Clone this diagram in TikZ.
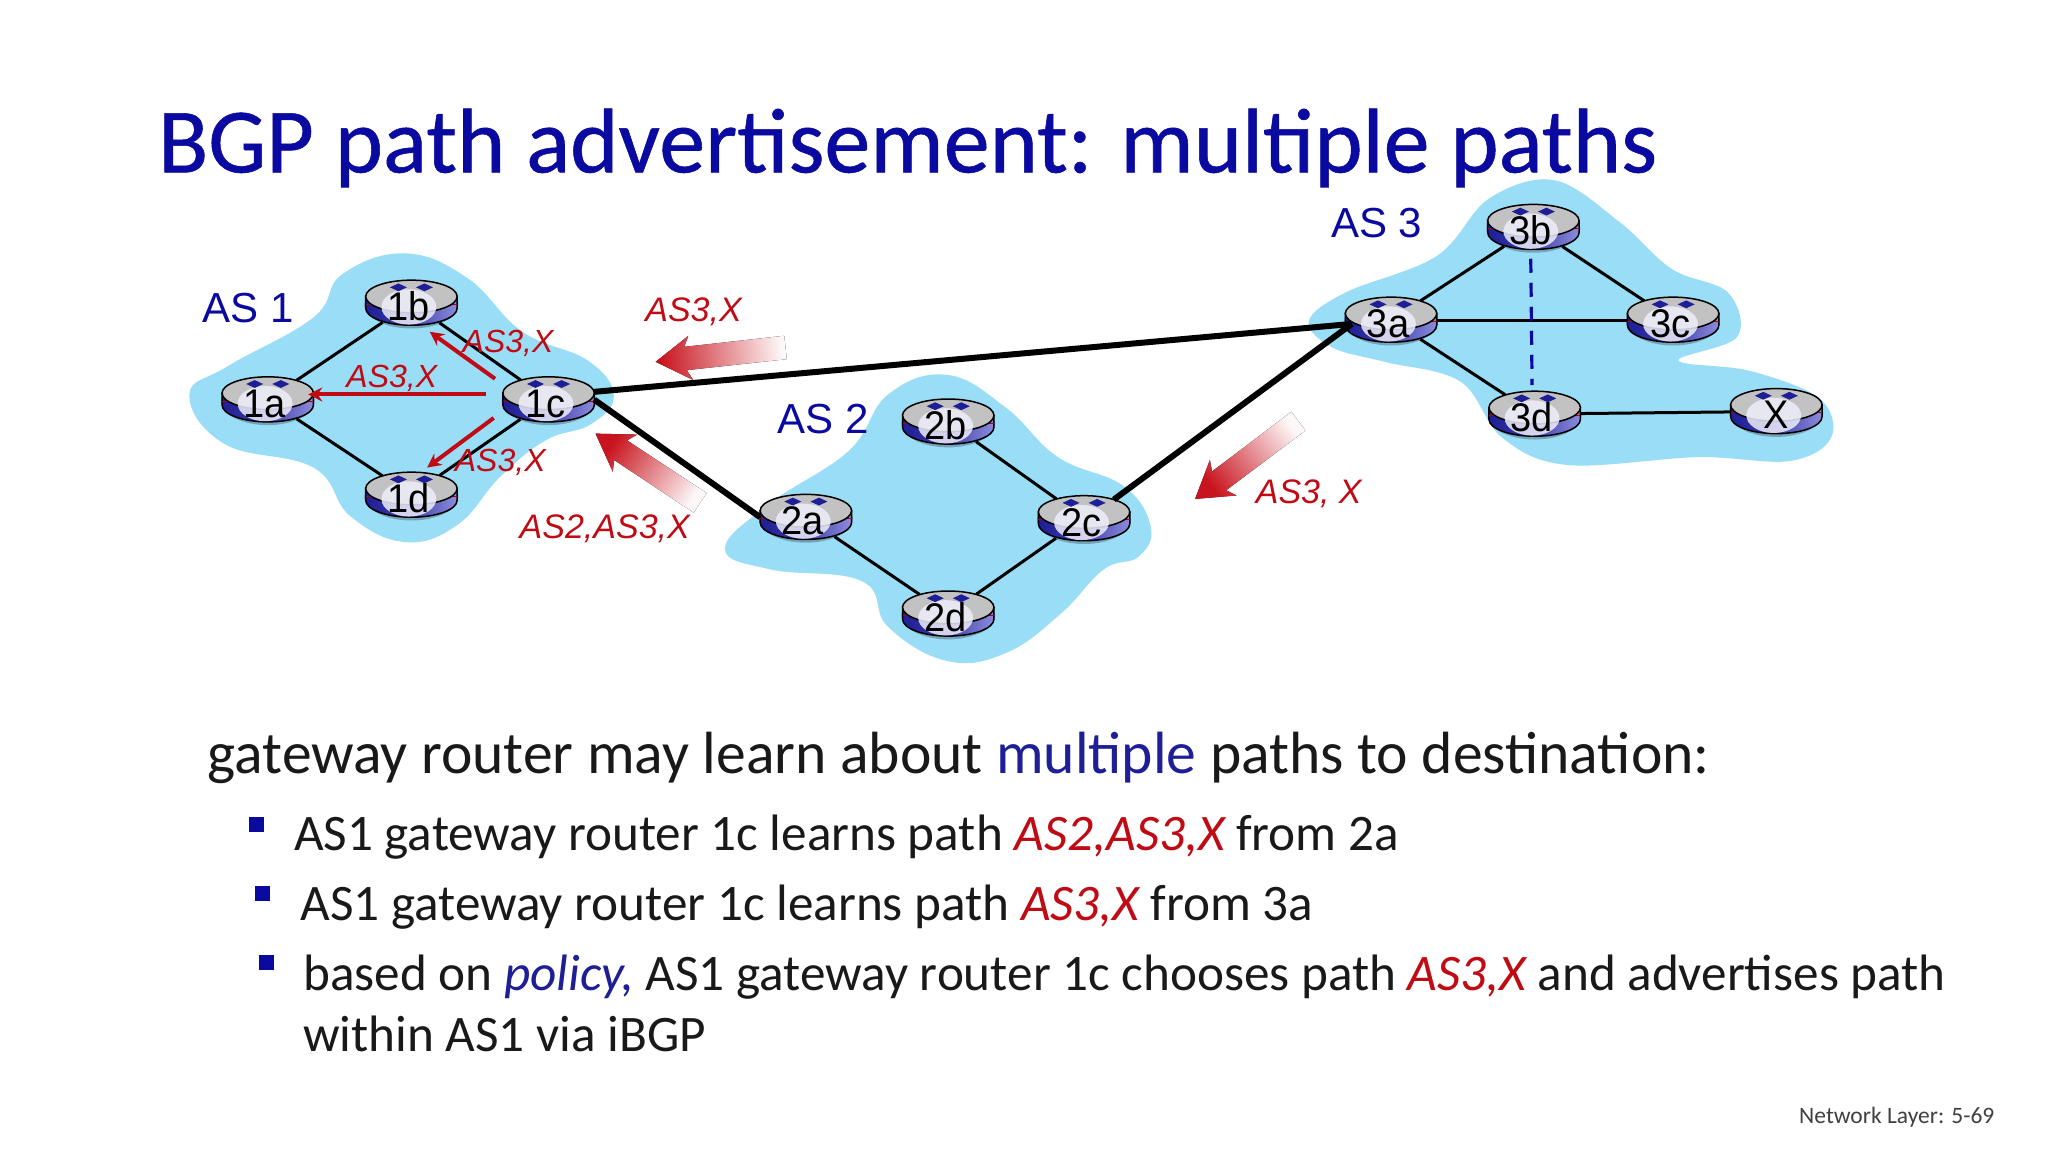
\documentclass[tikz,border=0pt]{standalone}
\usepackage{fontspec}
\setmainfont{Carlito}
\newfontfamily\arialf{Liberation Sans}
\newfontfamily\routerf[FakeStretch=0.95]{Liberation Sans}
\newfontfamily\titlef[FakeBold=0.6]{Carlito}
\usetikzlibrary{shapes.geometric,arrows.meta}
\definecolor{cloudc}{HTML}{9ADDF7}
\definecolor{navyt}{HTML}{0A0AA0}
\definecolor{redt}{HTML}{C00A14}
\definecolor{redarr}{HTML}{C8141E}
\definecolor{grayt}{HTML}{C2C2C2}
\definecolor{bodyd}{HTML}{1E1E96}
\definecolor{bodyl}{HTML}{8C8CDC}
\newcommand{\rtr}[3]{%
  \begin{scope}[shift={(#2)}]
    \fill[black,opacity=.25] (0,1) ellipse [x radius=36,y radius=18.5];
    \draw[black,line width=1.5pt,left color=bodyd,right color=bodyl,middle color=bodyd!70!bodyl]
      (-35,-5) -- (-35,4) .. controls (-35,11.2) and (-19.3,17) .. (0,17)
      .. controls (19.3,17) and (35,11.2) .. (35,4) -- (35,-5) -- cycle;
    \draw[black!30!red,line width=.8pt] (-35,1) -- (35,1);
    \draw[black,line width=1.5pt,fill=grayt] (0,-5) ellipse [x radius=35,y radius=12.5];
    \fill[white!85!bodyl,opacity=.85] (-2,3) ellipse [x radius=21,y radius=13.5];
    \fill[bodyd] (-16.5,-12) -- (-10,-15) -- (-3.5,-12) -- (-10,-9) -- cycle;
    \fill[bodyd] (3.5,-12) -- (10,-15) -- (16.5,-12) -- (10,-9) -- cycle;
  \end{scope}
  \node[rnode] (#1) at (#2) {#3};}
\newcommand{\gradarrow}[3]{%
  \fill[shift={(#1)},rotate=#2,top color=redarr,bottom color=redarr!3,shading angle=90+#2]
    (0,0) -- (27,-17) -- (23,-9) -- (#3,-9) -- (#3,9) -- (23,9) -- (27,17) -- cycle;}
\tikzset{
  rnode/.style={shape=ellipse,minimum width=91pt,minimum height=46pt,inner sep=0pt,
    text=black,text height=35pt,text depth=0pt,font=\routerf\fontsize{40}{40}\selectfont},
  cloud/.style={fill=cloudc},
  link/.style={black,line width=3pt},
  trunk/.style={black,line width=6pt},
  ibgp/.style={redt,line width=4pt,-{Stealth[length=14pt,width=14pt]}},
  aslabel/.style={text=navyt,font=\arialf\fontsize{42}{42}\selectfont,inner sep=0pt},
  pathlabel/.style={text=redt,font=\arialf\itshape\fontsize{34}{34}\selectfont,inner sep=0pt},
  innerlabel/.style={pathlabel,font=\arialf\itshape\fontsize{32}{32}\selectfont},
  body/.style={anchor=base west,inner sep=0pt,text=black!90,font=\fontsize{51.2}{51.2}\selectfont},
  bullet/.style={fill=navyt,minimum size=15pt,inner sep=0pt},
}
\begin{document}
\begin{tikzpicture}[x=1.306pt,y=-1.306pt]
\useasboundingbox (0,0) rectangle (1568,882);
\fill[white] (0,0) rectangle (1568,882);
\node[anchor=base west,inner sep=0pt,text=navyt,font=\titlef\fontsize{92}{92}\selectfont] (title) at (121,132) {BGP path advertisement: multiple paths};
% clouds
\fill[cloud] plot[smooth cycle,tension=.7] coordinates {(145,302)(175,280)(240,243)(262,210)(310,194)(358,213)(400,254)(450,276)(470,303)(452,325)(418,337)(383,365)(350,402)(310,415)(268,395)(240,358)(172,340)};
\fill[cloud] plot[smooth cycle,tension=.7] coordinates {(555,420)(590,385)(650,345)(680,302)(725,287)(770,312)(810,350)(860,372)(881,403)(872,426)(845,436)(812,470)(770,500)(725,506)(680,480)(660,445)(590,436)};
\fill[cloud] plot[smooth cycle,tension=.6] coordinates {(1002,246)(1030,224)(1100,196)(1140,152)(1190,138)(1240,170)(1280,206)(1323,224)(1330,258)(1285,276)(1340,284)(1393,305)(1402,335)(1370,353)(1300,350)(1200,356)(1150,335)(1118,292)(1060,277)(1020,266)};
% routers
\rtr{r1a}{205,306}{1a\kern6pt}\rtr{r1b}{315,232}{1b\kern6pt}\rtr{r1c}{420,306}{1c\kern6pt}\rtr{r1d}{315,379}{1d\kern6pt}
\rtr{r2a}{617,396}{2a\kern6pt}\rtr{r2b}{726,323}{2b\kern6pt}\rtr{r2c}{830,397}{2c\kern6pt}\rtr{r2d}{726,470}{2d\kern6pt}
\rtr{r3a}{1065,245}{3a\kern6pt}\rtr{r3b}{1174,174}{3b\kern6pt}\rtr{r3c}{1281,245}{3c\kern6pt}\rtr{r3d}{1175,317}{3d\kern6pt}\rtr{rX}{1360,315}{X}
% links
\draw[link] (r1a)--(r1b); \draw[link] (r1b)--(r1c); \draw[link] (r1a)--(r1d); \draw[link] (r1d)--(r1c);
\draw[link] (r2a)--(r2d); \draw[link] (r2d)--(r2c); \draw[link] (r2b)--(r2c);
\draw[link] (r3a)--(r3b); \draw[link] (r3b)--(r3c); \draw[link] (r3a)--(r3c); \draw[link] (r3a)--(r3d); \draw[link] (r3d)--(rX);
\draw[navyt,line width=3.2pt,dash pattern=on 14pt off 10pt] ([shift={(-2,5)}]r3b.south)--([shift={(-2,-3)}]r3d.north);
\draw[trunk] ([shift={(0,-6)}]r1c.east)--([shift={(5,3)}]r3a.west);
\draw[trunk] (r1c.east)--(r2a.west);
\draw[trunk] ([shift={(-2,-1)}]r2c.north east)--([shift={(5,3)}]r3a.west);
% gradient arrows
\gradarrow{502,277}{6.3}{100}
\gradarrow{456,332}{-33.5}{96}
\gradarrow{915,382}{37}{99}
% iBGP arrows
\draw[ibgp] ([shift={(-41,-16)}]r1c.center)--([shift={(14,22)}]r1b.center);
\draw[ibgp] ([shift={(-48,-4)}]r1c.center)--([shift={(31,-4)}]r1a.center);
\draw[ibgp] ([shift={(-42,14)}]r1c.center)--([shift={(12,-21)}]r1d.center);
% AS labels
\node[aslabel] (as1) at (190,236) {AS 1};
\node[aslabel] (as2) at (630,321) {AS 2};
\node[aslabel] (as3) at (1054,171) {AS 3};
% path labels
\node[pathlabel] (p1) at (531,239) {AS3,X};
\node[innerlabel] (p2) at (389,263) {AS3,X};
\node[innerlabel] (p3) at (300,290) {AS3,X};
\node[innerlabel] (p4) at (383,354) {AS3,X};
\node[pathlabel] (p5) at (463,405) {AS2,AS3,X};
\node[pathlabel] (p6) at (1002,378) {AS3, X};
% text
\node[anchor=base west,inner sep=0pt,text=black!90,font=\fontsize{59.6}{59.6}\selectfont] (t0) at (159,592) {gateway router may learn about \textcolor{bodyd}{multiple} paths to destination:};
\node[bullet] (b1) at (196,631) {};
\node[bullet] (b2) at (201,684) {};
\node[bullet] (b3) at (204,737) {};
\node[body] (t1) at (225,651) {AS1 gateway router 1c learns path \textcolor{redt}{\itshape AS2,AS3,X} from 2a};
\node[body] (t2) at (230,705) {AS1 gateway router 1c learns path \textcolor{redt}{\itshape AS3,X} from 3a};
\node[body] (t3) at (232,758) {based on \textcolor{bodyd}{\itshape policy,} AS1 gateway router 1c chooses path \textcolor{redt}{\itshape AS3,X} and advertises path};
\node[body] (t4) at (232,805) {within AS1 via iBGP};
\node[anchor=base east,inner sep=0pt,text=black!75,font=\fontsize{23.5}{23.5}\selectfont] (foot) at (1527,860) {Network Layer: 5-69};
\end{tikzpicture}
\end{document}
